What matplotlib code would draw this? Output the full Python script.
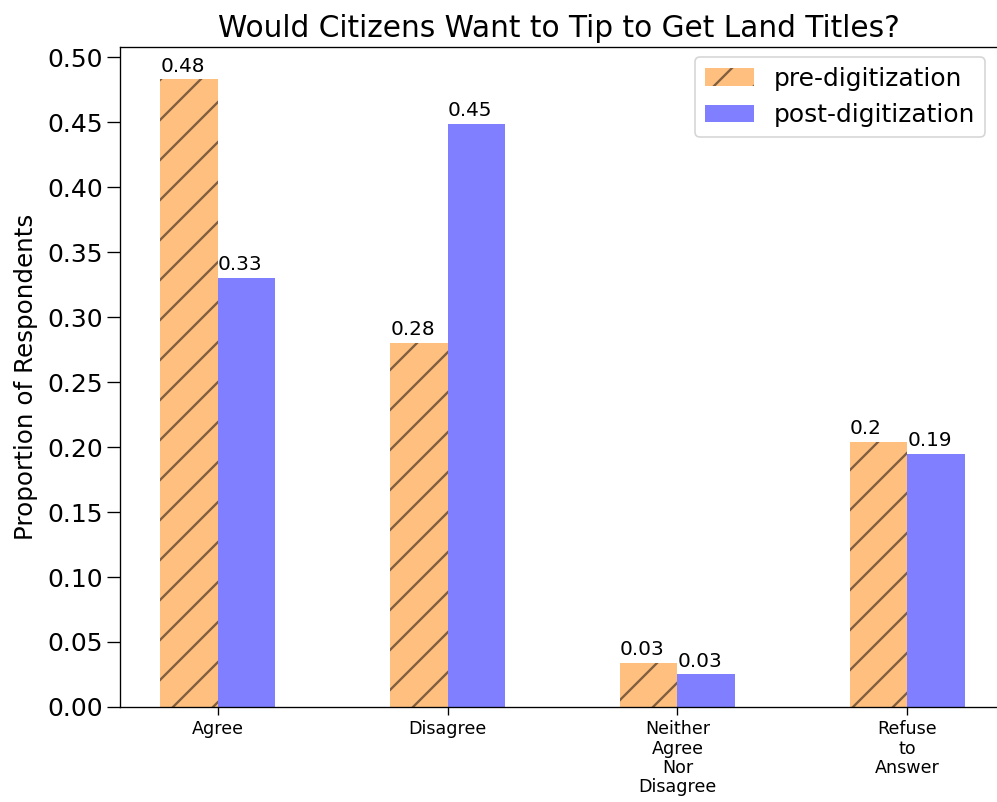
import numpy as np
import matplotlib
matplotlib.use('Agg')
import matplotlib.pyplot as plt

categories = ['Agree', 'Disagree', 'Neither\nAgree\nNor\nDisagree', 'Refuse\nto\nAnswer']
pre_values = [0.483, 0.280, 0.034, 0.204]
post_values = [0.330, 0.449, 0.025, 0.195]
pre_labels = ['0.48', '0.28', '0.03', '0.2']
post_labels = ['0.33', '0.45', '0.03', '0.19']

plt.rcParams['hatch.linewidth'] = 1.4

dpi = 120
fig = plt.figure(figsize=(997 / dpi, 802 / dpi), dpi=dpi)
ax = fig.add_axes([0.1204, 0.1185, 0.8806, 0.823])

x = np.arange(len(categories))
width = 0.25

ax.bar(x - width / 2, pre_values, width, color='#ff8000', alpha=0.5,
       hatch='/', edgecolor='black', linewidth=0, label='pre-digitization')
ax.bar(x + width / 2, post_values, width, color='#0000ff', alpha=0.5,
       linewidth=0, label='post-digitization')

# value labels start at the left edge of each bar
for xi, v, lab in zip(x, pre_values, pre_labels):
    ax.text(xi - width, v + 0.003, lab, ha='left', va='bottom', fontsize=12)
for xi, v, lab in zip(x, post_values, post_labels):
    ax.text(xi, v + 0.003, lab, ha='left', va='bottom', fontsize=12)

ax.set_xticks(x)
ax.set_xticklabels(categories, fontsize=10.5, linespacing=1.1)
ax.set_xlim(-0.426, 3.395)
ax.set_ylim(0, 0.508)
ax.set_yticks(np.arange(0, 0.51, 0.05))
ax.tick_params(axis='y', labelsize=15, length=8, pad=2)
ax.tick_params(axis='x', length=4.5)
ax.spines['right'].set_visible(False)
ax.set_ylabel('Proportion of Respondents', fontsize=14.8, labelpad=6)
ax.set_title('Would Citizens Want to Tip to Get Land Titles?', fontsize=17.8)
ax.legend(fontsize=14.9, loc='upper right', bbox_to_anchor=(0.997, 1.0),
          borderaxespad=0.4)

plt.savefig('out.png', dpi=dpi)
